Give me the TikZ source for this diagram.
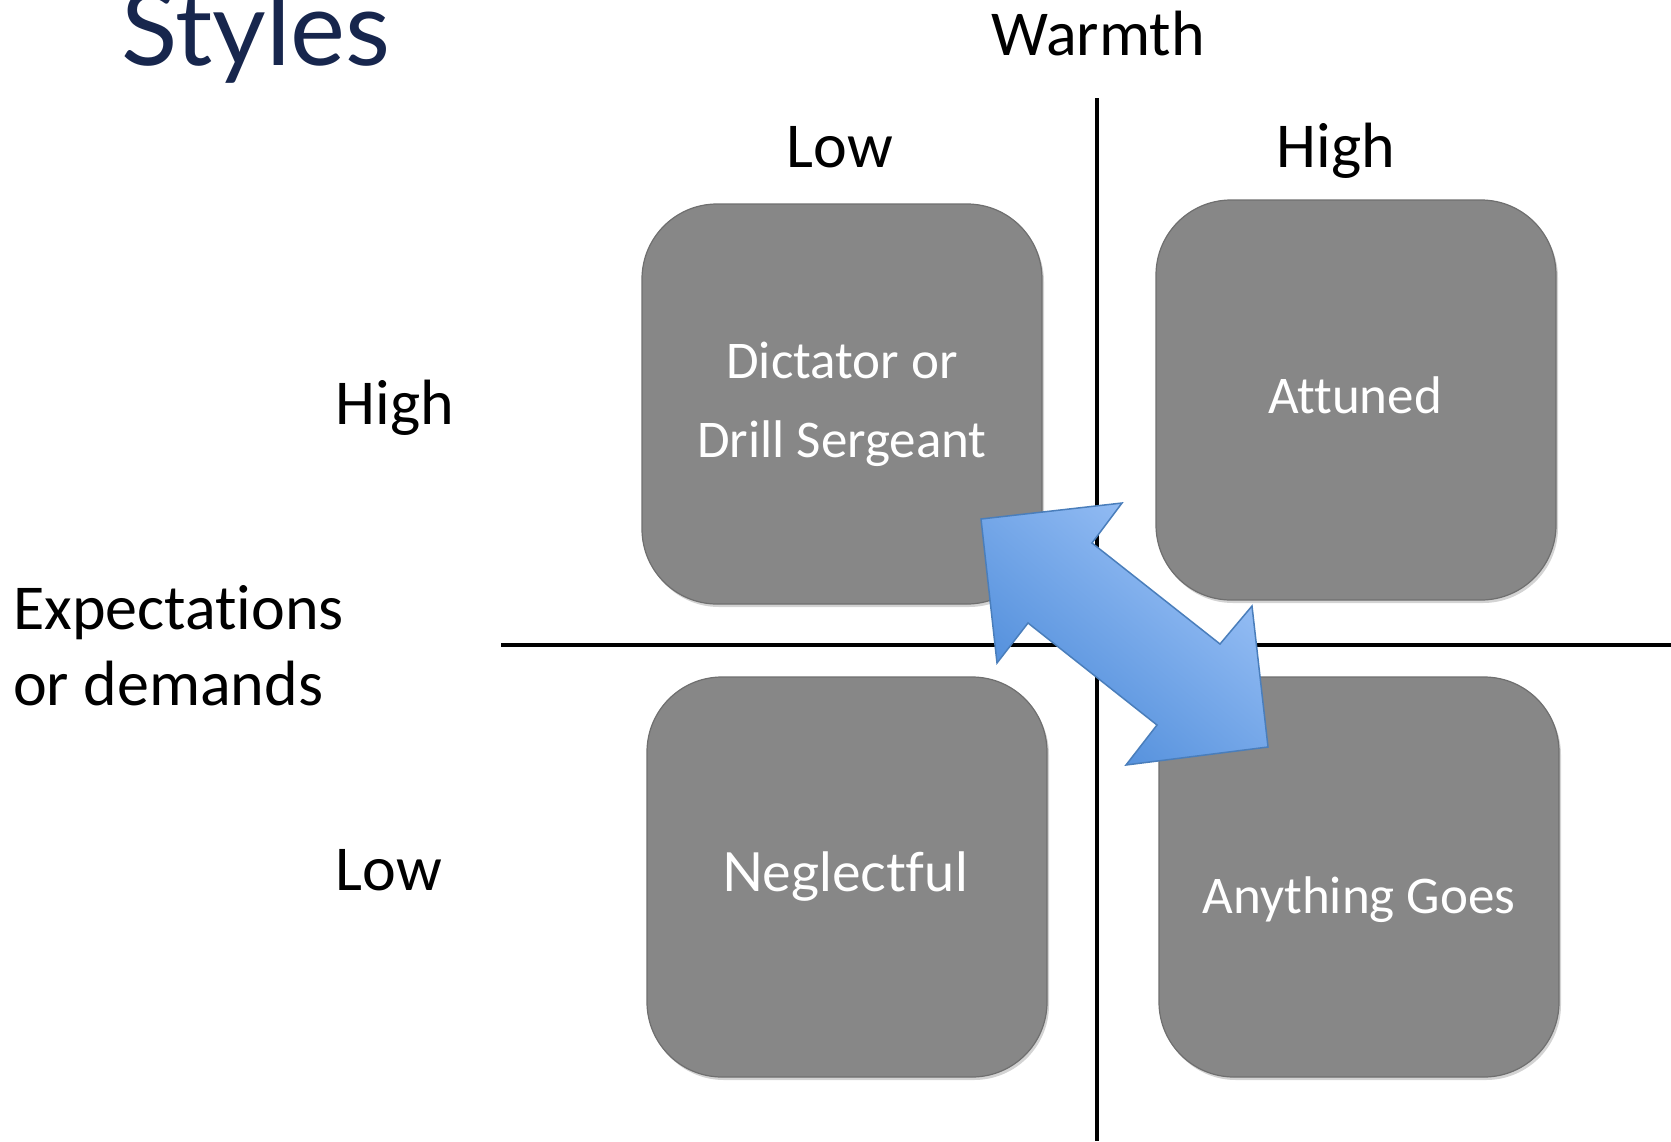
\documentclass[tikz,border=0pt]{standalone}
\usepackage{fontspec}
\setmainfont{Carlito}[Ligatures=NoCommon]
\newfontfamily\avfont{Lato}[Ligatures=NoCommon]
\usetikzlibrary{shadows}
\definecolor{boxgray}{HTML}{878787}
\definecolor{boxedge}{HTML}{6F6F6F}
\definecolor{titleblue}{HTML}{17264D}
\definecolor{arrlight}{HTML}{9DC3F7}
\definecolor{arrdark}{HTML}{4B8AD9}
\definecolor{arredge}{HTML}{4A7EBB}
\tikzset{
  quad/.style={draw=boxedge, line width=1.2pt, fill=boxgray, rounded corners=75pt,
    minimum width=400pt, minimum height=400pt, inner sep=0pt,
    drop shadow={opacity=0.35, shadow xshift=2pt, shadow yshift=-3pt}},
  axislabel/.style={anchor=base, inner sep=0pt, font=\fontsize{64}{76}\selectfont},
  boxtext/.style={anchor=base, inner sep=0pt, text=white, font=\fontsize{53}{63}\selectfont},
  axisline/.style={line width=4pt, black}
}
\begin{document}
\begin{tikzpicture}[x=1pt,y=-1pt]
\useasboundingbox (0,0) rectangle (1671,1141);
% axes
\coordinate (vtop) at (1097,98);
\coordinate (vbot) at (1097,1141);
\coordinate (hleft) at (501,645);
\coordinate (hright) at (1671,645);
\draw[axisline] (vtop) -- (vbot);
\draw[axisline] (hleft) -- (hright);
% boxes
\node[quad] (tl) at (842,404) {};
\node[quad] (tr) at (1356,400) {};
\node[quad] (bl) at (847,877) {};
\node[quad] (br) at (1359,877) {};
% box texts
\node[boxtext] (t1) at (842,378) {Dictator or};
\node[boxtext] (t2) at (842,457) {Drill Sergeant};
\node[boxtext] (t3) at (1355,413) {Attuned};
\node[boxtext, font=\avfont\fontsize{54}{64}\selectfont] (t4) at (845,891) {Neglectful};
\node[boxtext] (t5) at (1359,913) {Anything Goes};
% title and labels
\node[anchor=base, inner sep=0pt, text=titleblue, font=\avfont\fontsize{104}{110}\selectfont] (title) at (256,65) {Styles};
\node[axislabel] (warmth) at (1098,55) {Warmth};
\node[axislabel] (lowtop) at (840,167) {Low};
\node[axislabel] (hightop) at (1336,167) {High};
\node[axislabel] (highleft) at (395,424) {High};
\node[axislabel] (lowleft) at (389,890) {Low};
\node[axislabel, anchor=base west] (exp1) at (13,629) {Expectations};
\node[axislabel, anchor=base west] (exp2) at (13,705) {or demands};
% double arrow
\shade[draw=arredge, line width=1.5pt, line join=miter, top color=arrlight, bottom color=arrdark, shading angle=-40]
  (981,519) -- (1122,503) -- (1092,543) -- (1220,644) -- (1252,606) -- (1268,747)
  -- (1126,765) -- (1157,725) -- (1028,623) -- (997,663) -- cycle;
\end{tikzpicture}
\end{document}
